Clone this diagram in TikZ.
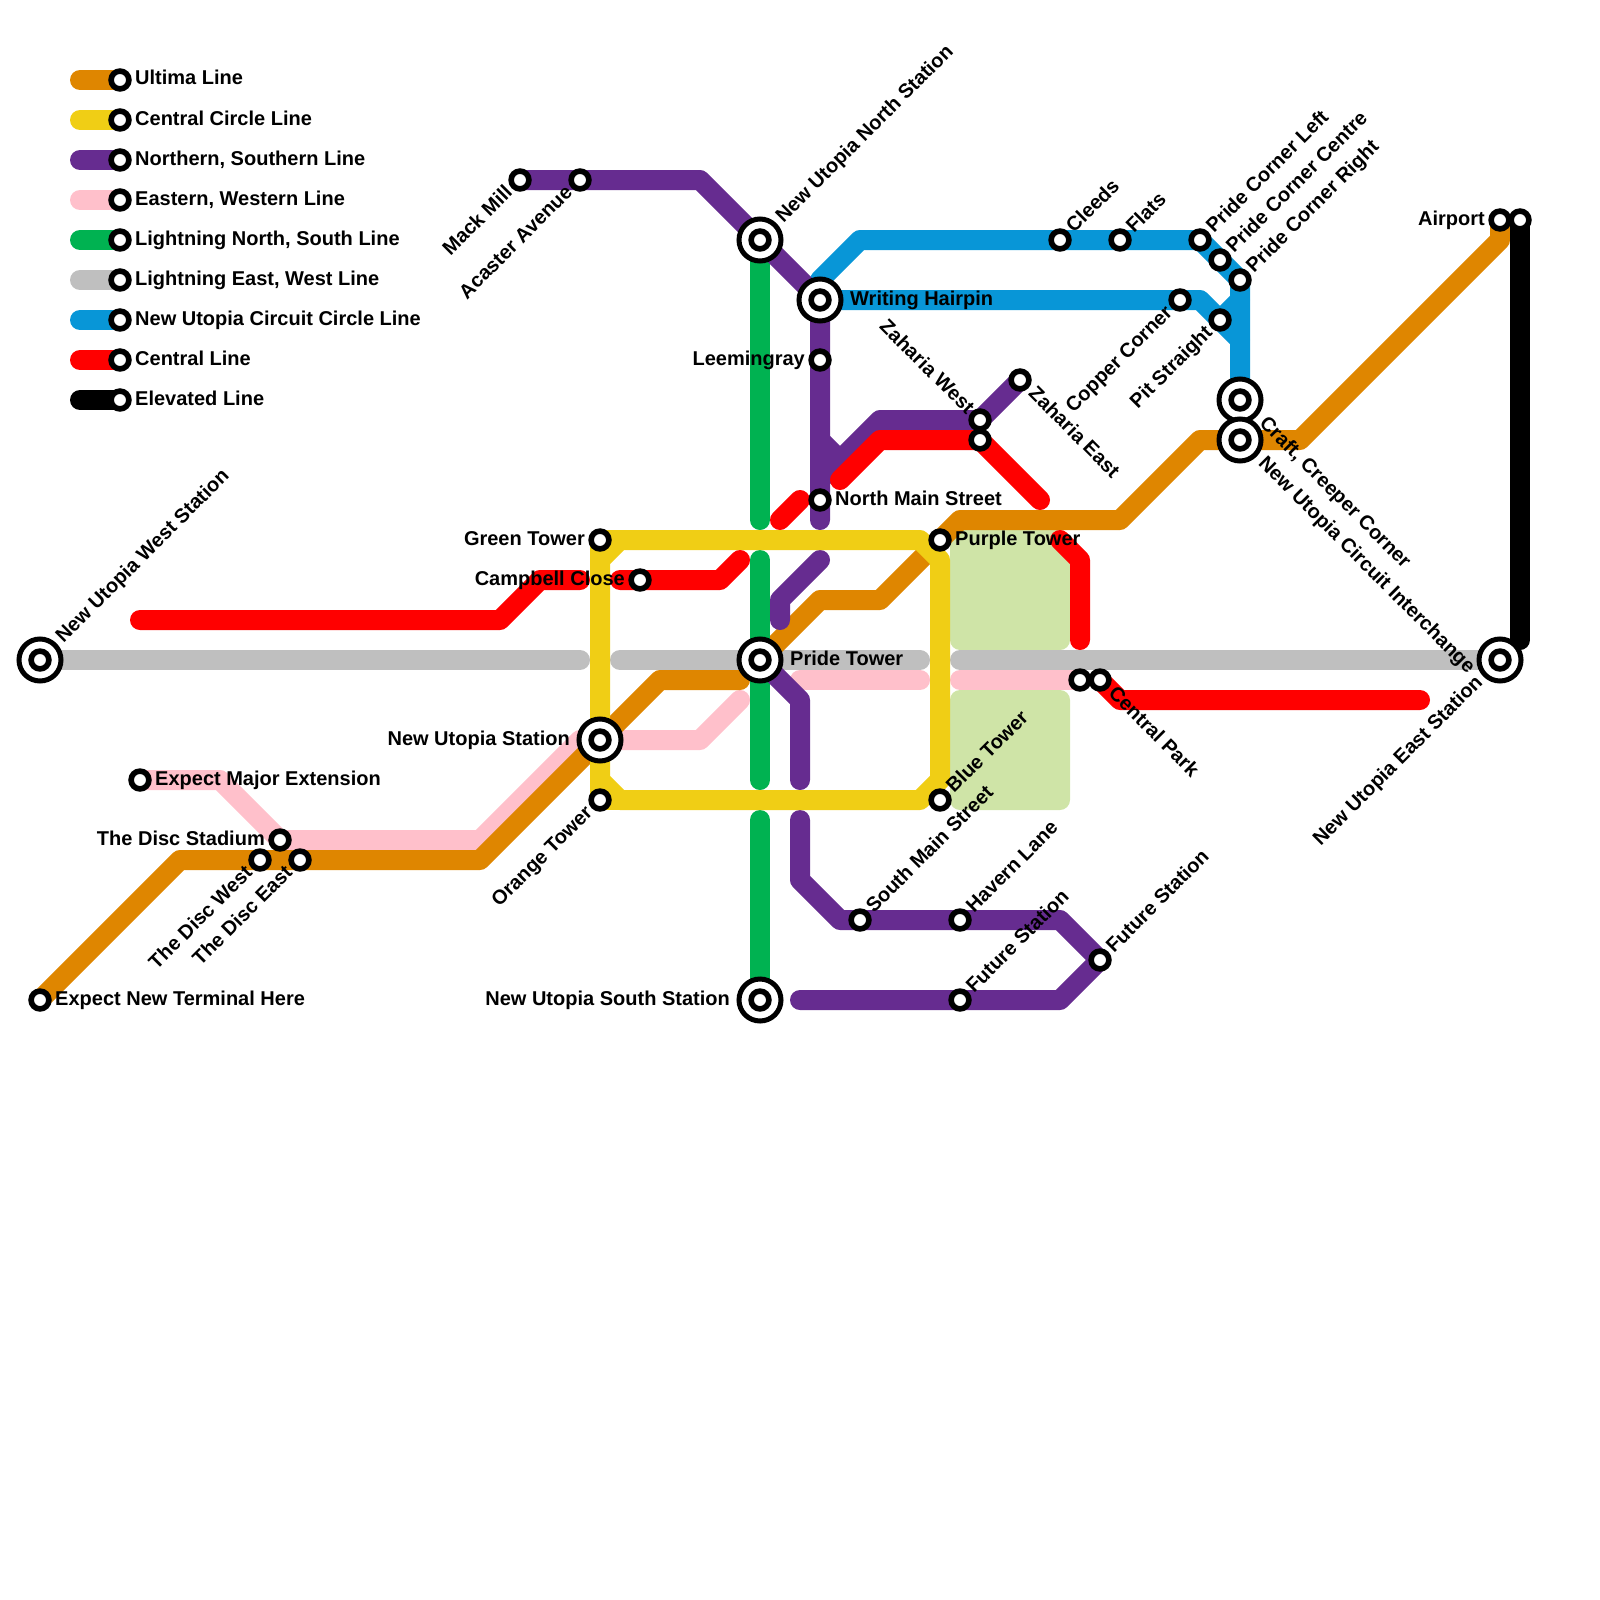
\documentclass[tikz,border=0pt]{standalone}
\usepackage{fontspec}
\setmainfont{Liberation Sans}
\definecolor{cU}{HTML}{DF8600}
\definecolor{cY}{HTML}{F0CE15}
\definecolor{cP}{HTML}{662C90}
\definecolor{cK}{HTML}{FFC0CB}
\definecolor{cG}{HTML}{00B251}
\definecolor{cA}{HTML}{BFBFBF}
\definecolor{cB}{HTML}{0896D7}
\definecolor{cR}{HTML}{FF0000}
\definecolor{cL}{HTML}{CFE4A7}
\tikzset{
  rail/.style={line width=20pt,line cap=round,line join=round},
  stn/.style={circle,draw=black,fill=white,line width=5.6pt,minimum size=17.8pt,inner sep=0pt},
  xout/.style={circle,draw=black,fill=white,line width=5pt,minimum size=42pt,inner sep=0pt},
  land/.style={fill=cL,rounded corners=10pt},
  txt/.style={font=\fontsize{20}{24}\selectfont\bfseries,inner sep=0pt,text=black,text height=14pt,text depth=4pt},
  lE/.style={txt,anchor=west},
  lW/.style={txt,anchor=east},
  lNE/.style={txt,anchor=west,rotate=45},
  lSW/.style={txt,anchor=east,rotate=45},
  lSE/.style={txt,anchor=west,rotate=-45},
  lNW/.style={txt,anchor=east,rotate=-45},
}
% station drawing: \st{name}{label style}{dx,dy}{text}
\newcommand{\st}[4]{\node[stn] (#1-s) at (#1) {};\node[#2] (#1-t) at ([shift={(#3)}]#1) {#4};}
\newcommand{\xst}[4]{\node[xout] (#1-o) at (#1) {};\node[stn] (#1-s) at (#1) {};\node[#2] (#1-t) at ([shift={(#3)}]#1) {#4};}
\begin{document}
\begin{tikzpicture}[x=1pt,y=-1pt]
\useasboundingbox (0,0) rectangle (1600,1600);
% station positions
\foreach \n/\p in {
 nuw/{40,660},nue/{1500,660},term/{40,1000},major/{140,780},stad/{280,840},dw/{260,860},de/{300,860},
 nus/{600,740},orange/{600,800},green/{600,540},camp/{640,580},pride/{760,660},south/{760,1000},north/{760,240},
 hair/{820,300},leem/{820,360},nms/{820,500},mack/{520,180},acas/{580,180},zw/{980,420},zu/{980,440},ze/{1020,380},
 purp/{940,540},blue/{940,800},sms/{860,920},hav/{960,920},fa/{960,1000},fb/{1100,960},
 cleeds/{1060,240},flats/{1120,240},pl/{1200,240},pc/{1220,260},pr/{1240,280},copper/{1180,300},pit/{1220,320},
 craft/{1240,400},nuci/{1240,440},air/{1500,220},airb/{1520,220},cu/{1080,680},cp/{1100,680}}
 {\coordinate (\n) at (\p);}
\foreach \i/\y in {a/80,b/120,c/160,d/200,e/240,f/280,g/320,h/360,i/400}{
 \coordinate (k\i) at (120,\y); \coordinate (j\i) at (80,\y);}
% land
\path[land] (950,530) rectangle (1070,650);
\path[land] (950,690) rectangle (1070,810);
% legend bars
\foreach \i/\c in {a/cU,b/cY,c/cP,d/cK,e/cG,f/cA,g/cB,h/cR,i/black}{\draw[rail,draw=\c] (j\i) -- (k\i);}
% pink
\draw[rail,cK] (major) -- (220,780) -- (stad) -- (480,840) -- (580,740) -- (nus) -- (700,740) -- (740,700);
\draw[rail,cK] (800,680) -- (920,680);
\draw[rail,cK] (960,680) -- (cu);
% gray
\draw[rail,cA] (nuw) -- (580,660);
\draw[rail,cA] (620,660) -- (920,660);
\draw[rail,cA] (960,660) -- (nue);
% ultima
\draw[rail,cU] (term) -- (180,860) -- (480,860) -- (660,680) -- (740,680);
\draw[rail,cU] (pride) -- (820,600) -- (880,600) -- (purp) -- (960,520) -- (1120,520) -- (1200,440) -- (1300,440) -- (1500,240) -- (air);
% green
\draw[rail,cG] (north) -- (760,520);
\draw[rail,cG] (760,560) -- (760,780);
\draw[rail,cG] (760,820) -- (south);
% blue
\draw[rail,cB] (hair) -- (1200,300) -- (1240,340) -- (craft);
\draw[rail,cB] (820,280) -- (860,240) -- (pl) -- (pr) -- (1240,340);
\draw[rail,cB] (1240,300) -- (pit);
% purple
\draw[rail,cP] (mack) -- (700,180) -- (north) -- (hair) -- (820,520);
\draw[rail,cP] (820,440) -- (840,460) -- (880,420) -- (zw) -- (ze);
\draw[rail,cP] (820,480) -- (840,460);
\draw[rail,cP] (820,560) -- (780,600) -- (780,620);
\draw[rail,cP] (pride) -- (800,700) -- (800,780);
\draw[rail,cP] (800,820) -- (800,880) -- (840,920) -- (1060,920) -- (fb) -- (1060,1000) -- (800,1000);
% yellow
\draw[rail,cY] (620,540) -- (920,540) -- (940,560) -- (940,780) -- (920,800) -- (620,800) -- (600,780) -- (600,560) -- cycle;
\draw[rail,cY] (600,560) -- (green) -- (620,540);
\draw[rail,cY] (600,780) -- (orange) -- (620,800);
% red
\draw[rail,cR] (140,620) -- (500,620) -- (540,580) -- (580,580);
\draw[rail,cR] (620,580) -- (720,580) -- (740,560);
\draw[rail,cR] (780,520) -- (800,500);
\draw[rail,cR] (840,480) -- (880,440) -- (zu) -- (1040,500);
\draw[rail,cR] (1060,540) -- (1080,560) -- (1080,640);
\draw[rail,cR] (cp) -- (1120,700) -- (1420,700);
% black
\draw[rail,black] (airb) -- (1520,640);
% legend stations
\st{ka}{lE}{15,0}{Ultima Line}
\st{kb}{lE}{15,0}{Central Circle Line}
\st{kc}{lE}{15,0}{Northern, Southern Line}
\st{kd}{lE}{15,0}{Eastern, Western Line}
\st{ke}{lE}{15,0}{Lightning North, South Line}
\st{kf}{lE}{15,0}{Lightning East, West Line}
\st{kg}{lE}{15,0}{New Utopia Circuit Circle Line}
\st{kh}{lE}{15,0}{Central Line}
\st{ki}{lE}{15,0}{Elevated Line}
% stations
\xst{nuw}{lNE}{20,-20}{New Utopia West Station}
\xst{nue}{lSW}{-20,20}{New Utopia East Station}
\st{term}{lE}{15,0}{Expect New Terminal Here}
\st{major}{lE}{15,0}{Expect Major Extension}
\st{stad}{lW}{-15,0}{The Disc Stadium}
\st{dw}{lSW}{-10,10}{The Disc West}
\st{de}{lSW}{-10,10}{The Disc East}
\xst{nus}{lW}{-30,0}{New Utopia Station}
\st{orange}{lSW}{-10,10}{Orange Tower}
\st{green}{lW}{-15,0}{Green Tower}
\st{camp}{lW}{-15,0}{Campbell Close}
\xst{pride}{lE}{30,0}{Pride Tower}
\xst{south}{lW}{-30,0}{New Utopia South Station}
\xst{north}{lNE}{20,-20}{New Utopia North Station}
\xst{hair}{lE}{30,0}{Writing Hairpin}
\st{leem}{lW}{-15,0}{Leemingray}
\st{nms}{lE}{15,0}{North Main Street}
\st{mack}{lSW}{-10,10}{Mack Mill}
\st{acas}{lSW}{-10,10}{Acaster Avenue}
\st{zw}{lNW}{-10,-8}{Zaharia West}
\node[stn] (zu-s) at (zu) {};
\st{ze}{lSE}{11,11}{Zaharia East}
\st{purp}{lE}{15,0}{Purple Tower}
\st{blue}{lNE}{10.5,-9.5}{Blue Tower}
\st{sms}{lNE}{10.5,-9.5}{South Main Street}
\st{hav}{lNE}{10.5,-9.5}{Havern Lane}
\st{fa}{lNE}{10.5,-9.5}{Future Station}
\st{fb}{lNE}{10.5,-9.5}{Future Station}
\st{cleeds}{lNE}{10.5,-9.5}{Cleeds}
\st{flats}{lNE}{10.5,-9.5}{Flats}
\st{pl}{lNE}{10.5,-9.5}{Pride Corner Left}
\st{pc}{lNE}{10.5,-9.5}{Pride Corner Centre}
\st{pr}{lNE}{10.5,-9.5}{Pride Corner Right}
\st{copper}{lSW}{-10,10}{Copper Corner}
\st{pit}{lSW}{-10,10}{Pit Straight}
\xst{craft}{lSE}{22,21}{Craft, Creeper Corner}
\xst{nuci}{lSE}{21,21}{New Utopia Circuit Interchange}
\st{air}{lW}{-15,0}{Airport}
\node[stn] (airb-s) at (airb) {};
\node[stn] (cu-s) at (cu) {};
\st{cp}{lSE}{11,11}{Central Park}
\end{tikzpicture}
\end{document}
